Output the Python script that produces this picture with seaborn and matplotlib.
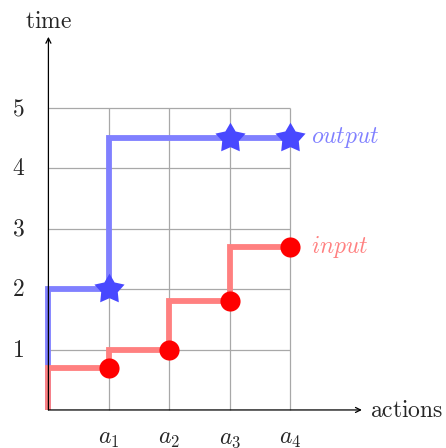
import numpy as np
import pandas as pd
import matplotlib
matplotlib.use("Agg")
import matplotlib.pyplot as plt
from matplotlib.path import Path
import seaborn as sns

# ---------------------------------------------------------
# Data
# ---------------------------------------------------------
steps = [0, 1, 2, 3, 4]
input_times = [0, 0.7, 1.0, 1.8, 2.7]
output_times = [0, 2.0, 4.5, 4.5, 4.5]

input_marks_x = [1, 2, 3, 4]
input_marks_y = [0.7, 1.0, 1.8, 2.7]
output_marks_x = [1, 3, 4]
output_marks_y = [2.0, 4.5, 4.5]

x_ticks = [1, 2, 3, 4]
x_tick_labels = ["$a_1$", "$a_2$", "$a_3$", "$a_4$"]
y_ticks = [1, 2, 3, 4, 5]
y_tick_labels = ["$1$", "$2$", "$3$", "$4$", "$5$"]

LINE_BLUE = "#8080ff"
LINE_RED = "#ff8080"
MARK_BLUE = "#4848ff"
MARK_RED = "#ff0000"
GRID = "#a8a8a8"


def star_marker(ratio=0.55):
    # fat five-pointed star like the tikz one
    ang = np.pi / 2 + np.arange(10) * np.pi / 5
    rad = np.where(np.arange(10) % 2 == 0, 1.0, ratio)
    verts = np.column_stack([rad * np.cos(ang), rad * np.sin(ang)])
    verts = np.vstack([verts, verts[:1]])
    codes = [Path.MOVETO] + [Path.LINETO] * 9 + [Path.CLOSEPOLY]
    return Path(verts, codes)


def draw_chart():
    sns.set_style("white")
    plt.rcParams["mathtext.fontset"] = "cm"

    fig = plt.figure(figsize=(4.46, 4.48), dpi=100)
    ax = fig.add_axes([0, 0, 1, 1])
    ax.set_xlim(-0.80, 6.57)
    ax.set_ylim(-0.63, 6.79)
    ax.axis("off")

    # grid
    ax.vlines(x_ticks, 0, max(y_ticks), color=GRID, lw=0.9, zorder=1)
    ax.hlines(y_ticks, 0, max(x_ticks), color=GRID, lw=0.9, zorder=1)

    # step lines
    df_out = pd.DataFrame({"step": steps, "time": output_times})
    df_in = pd.DataFrame({"step": steps, "time": input_times})
    line_kw = dict(lw=4.2, drawstyle="steps-pre",
                   solid_capstyle="butt", solid_joinstyle="miter")
    sns.lineplot(data=df_out, x="step", y="time", ax=ax, color=LINE_BLUE,
                 zorder=3, **line_kw)
    sns.lineplot(data=df_in, x="step", y="time", ax=ax, color=LINE_RED,
                 zorder=4, **line_kw)

    # axes with arrows
    arrow = dict(arrowstyle="->", lw=0.9, color="black",
                 shrinkA=0, shrinkB=0, mutation_scale=9)
    ax.annotate("", xy=(5.18, 0), xytext=(0, 0), arrowprops=arrow, zorder=5)
    ax.annotate("", xy=(0, 6.18), xytext=(0, 0), arrowprops=arrow, zorder=5)

    # markers
    sns.scatterplot(x=input_marks_x, y=input_marks_y, ax=ax, color=MARK_RED,
                    s=210, linewidth=0, marker="o", zorder=6)
    sns.scatterplot(x=output_marks_x, y=output_marks_y, ax=ax, color=MARK_BLUE,
                    s=520, linewidth=0, marker=star_marker(), zorder=6)

    # tick labels
    for x, lab in zip(x_ticks, x_tick_labels):
        ax.text(x, -0.57, lab, ha="center", va="baseline", fontsize=17)
    for y, lab in zip(y_ticks, y_tick_labels):
        ax.text(-0.5, y, lab, ha="center", va="center", fontsize=17)

    ax.text(0, 6.32, r"$\mathrm{time}$", ha="center", va="baseline", fontsize=17)
    ax.text(5.31, -0.116, r"$\mathrm{actions}$", ha="left", va="baseline", fontsize=17)

    # series labels
    ax.text(4.34, output_marks_y[-1] - 0.08, "$output$", color=LINE_BLUE,
            ha="left", va="baseline", fontsize=17)
    ax.text(4.34, input_marks_y[-1] - 0.1, "$input$", color=LINE_RED,
            ha="left", va="baseline", fontsize=17)

    fig.savefig("out.png", dpi=100)


if __name__ == "__main__":
    draw_chart()
